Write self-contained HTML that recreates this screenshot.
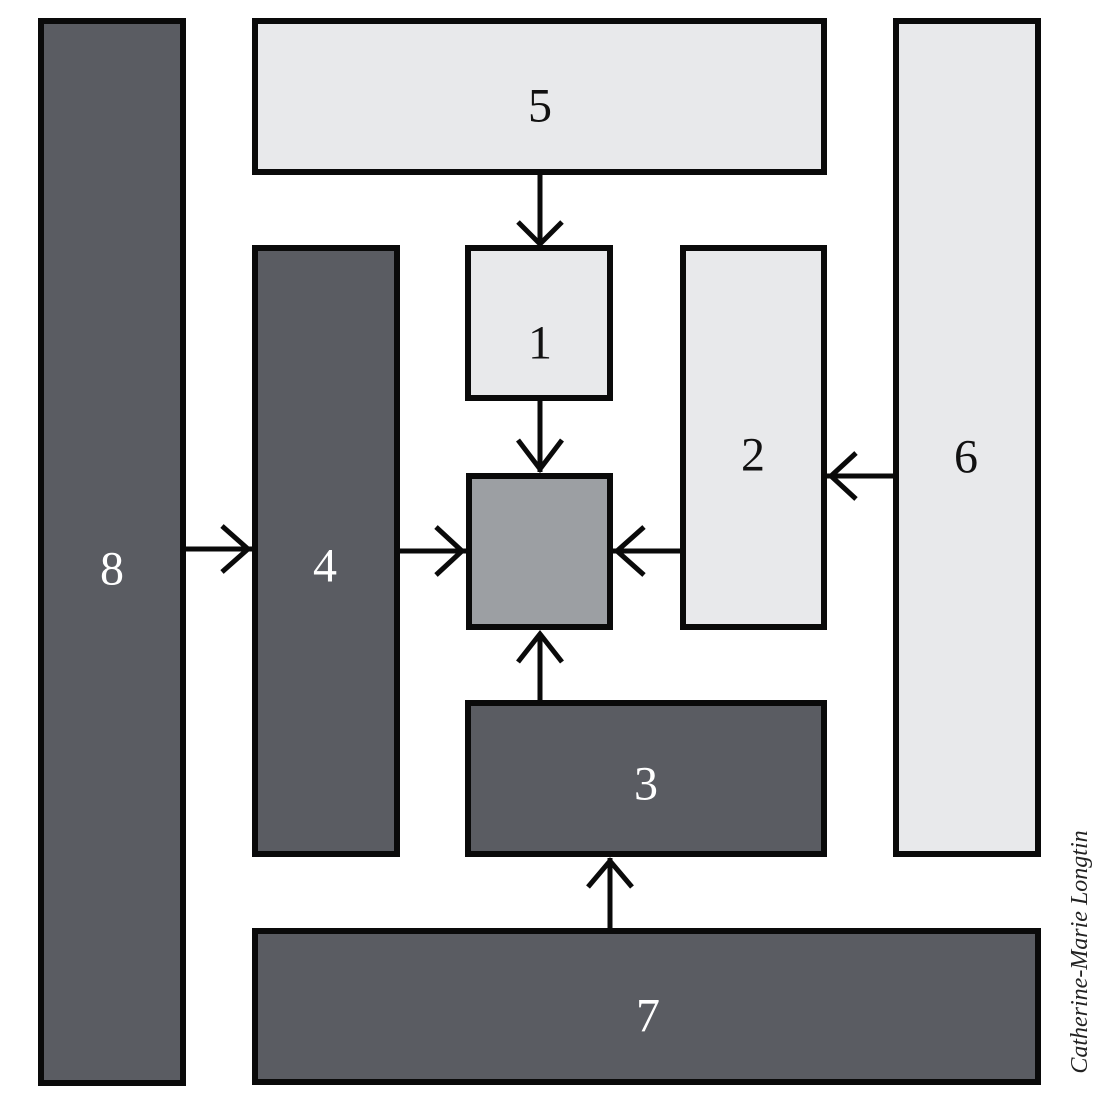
<!DOCTYPE html>
<html><head><meta charset="utf-8"><style>
html,body{margin:0;padding:0;background:#fff;}
svg{display:block;}
text{font-family:"Liberation Serif",serif;font-size:48px;text-anchor:middle;dominant-baseline:central;}
</style></head><body>
<svg width="1108" height="1108" viewBox="0 0 1108 1108" xmlns="http://www.w3.org/2000/svg">
<g stroke="#0a0a0a" stroke-width="6">
<rect x="41" y="21" width="142" height="1062" fill="#5a5c62"/>
<rect x="255" y="21" width="569" height="151" fill="#e8e9eb"/>
<rect x="896" y="21" width="142" height="833" fill="#e8e9eb"/>
<rect x="255" y="248" width="142" height="606" fill="#5a5c62"/>
<rect x="468" y="248" width="142" height="150" fill="#e8e9eb"/>
<rect x="683" y="248" width="141" height="379" fill="#e8e9eb"/>
<rect x="469" y="476" width="141" height="151" fill="#9c9fa3"/>
<rect x="468" y="703" width="356" height="151" fill="#5a5c62"/>
<rect x="255" y="931" width="783" height="151" fill="#5a5c62"/>
</g>
<g stroke="#0a0a0a" stroke-width="5" fill="none">
<line x1="540" y1="174" x2="540" y2="245"/><polyline points="518,222 540,244 562,222"/>
<line x1="540" y1="400" x2="540" y2="472"/><polyline points="518,440 540,469 562,440"/>
<line x1="186" y1="549" x2="252" y2="549"/><polyline points="222,526 248,549 222,572"/>
<line x1="400" y1="551" x2="466" y2="551"/><polyline points="436,527 462,551 436,575"/>
<line x1="613" y1="551" x2="680" y2="551"/><polyline points="644,527 617,551 644,575"/>
<line x1="827" y1="476" x2="893" y2="476"/><polyline points="856,453 831,476 856,499"/>
<line x1="540" y1="633" x2="540" y2="700"/><polyline points="518,662 540,634 562,662"/>
<line x1="610" y1="858" x2="610" y2="928"/><polyline points="588,887 610,861 632,887"/>
</g>
<text x="540" y="106" fill="#111">5</text>
<text x="540" y="343" fill="#111">1</text>
<text x="753" y="455" fill="#111">2</text>
<text x="966" y="457" fill="#111">6</text>
<text x="112" y="569" fill="#fff">8</text>
<text x="325" y="566" fill="#fff">4</text>
<text x="646" y="784" fill="#fff">3</text>
<text x="648" y="1016" fill="#fff">7</text>
<text x="1080" y="952" transform="rotate(-90 1080 952)" style="font-size:24px;font-style:italic;fill:#222">Catherine-Marie Longtin</text>
</svg>
</body></html>
